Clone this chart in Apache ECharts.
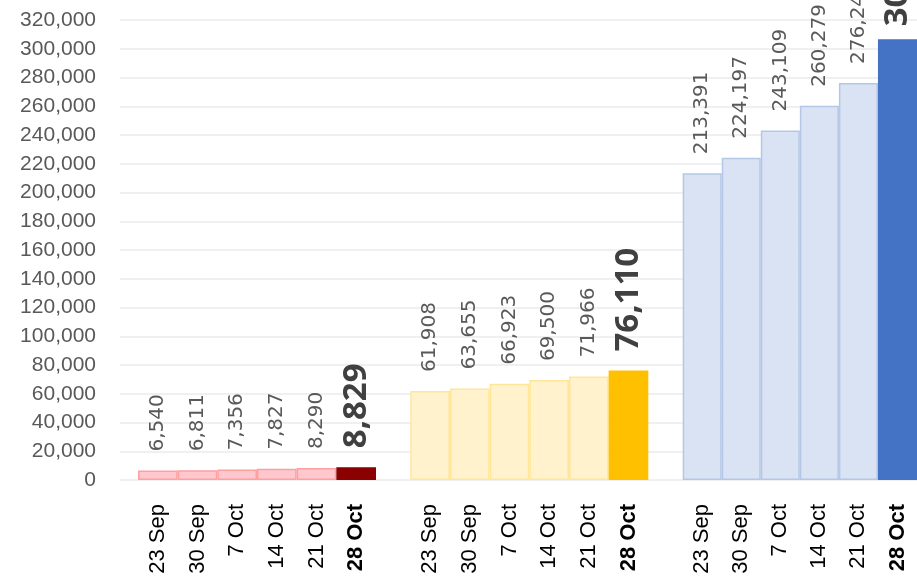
<!DOCTYPE html>
<html>
<head>
<meta charset="utf-8">
<script src="https://cdn.jsdelivr.net/npm/echarts@6/dist/echarts.min.js"></script>
<style>
  html, body { margin: 0; padding: 0; background: #fff; }
  #chart { width: 917px; height: 579px; }
</style>
</head>
<body>
<div id="chart"></div>
<script>
// weekly snapshots, shared by all three groups
const weeks = ['23 Sep', '30 Sep', '7 Oct', '14 Oct', '21 Oct', '28 Oct']
const redValues = [6540, 6811, 7356, 7827, 8290, 8829]
const amberValues = [61908, 63655, 66923, 69500, 71966, 76110]
const blueValues = [213391, 224197, 243109, 260279, 276245, 306550]

const yMin = 0
const yMax = 320000
const yStep = 20000

const groups = [
  { values: redValues, fill: '#FFC7CE', border: '#FF9F9F', last: '#8B0000', left: 138, lastDist: 19 },
  { values: amberValues, fill: '#FFF2CC', border: '#FFE699', last: '#FFC000', left: 410.3, lastDist: 19 },
  // top label gets pushed down a bit by the chart edge in the original
  { values: blueValues, fill: '#DAE3F3', border: '#B4C7E7', last: '#4472C4', left: 682.7, lastDist: 13 }
]

const fmt = v => v.toLocaleString('en-US')
const gridTop = 20
const gridBottom = 99

const grid = [{ left: 120, right: 0, top: gridTop, bottom: gridBottom }]
const xAxis = [{ gridIndex: 0, type: 'category', data: [''], show: false }]
const yAxis = [{
  gridIndex: 0,
  type: 'value',
  min: yMin,
  max: yMax,
  interval: yStep,
  axisLine: { show: false },
  axisTick: { show: false },
  axisLabel: {
    formatter: fmt,
    color: '#595959',
    fontFamily: 'Liberation Sans',
    fontSize: 21,
    margin: 24
  },
  splitLine: { lineStyle: { color: '#F0F0F0', width: 2 } }
}]
const series = []

groups.forEach((g, k) => {
  const idx = k + 1
  grid.push({ left: g.left, width: 238, top: gridTop, bottom: gridBottom })
  xAxis.push({
    gridIndex: idx,
    type: 'category',
    data: weeks.map((w, i) => i === weeks.length - 1
      ? { value: w, textStyle: { fontWeight: 'bold', color: '#000' } }
      : w),
    axisLine: { show: false },
    axisTick: { show: false },
    axisLabel: {
      rotate: 90,
      interval: 0,
      margin: 24,
      color: '#000',
      fontFamily: 'Liberation Sans',
      fontSize: 22
    }
  })
  yAxis.push({ gridIndex: idx, type: 'value', min: yMin, max: yMax, interval: yStep, show: false, splitLine: { show: false } })
  series.push({
    type: 'bar',
    xAxisIndex: idx,
    yAxisIndex: idx,
    barWidth: '100%',
    itemStyle: { color: g.fill, borderColor: g.border, borderWidth: 1.5 },
    label: {
      show: true,
      position: 'top',
      rotate: 90,
      align: 'left',
      verticalAlign: 'middle',
      distance: 19,
      formatter: p => fmt(p.value),
      color: '#595959',
      fontFamily: 'DejaVu Sans',
      fontSize: 20
    },
    data: g.values.map((v, i) => i === g.values.length - 1
      ? {
          value: v,
          itemStyle: { color: g.last, borderColor: g.last },
          label: { fontFamily: 'Open Sans', fontWeight: 'bold', fontSize: 33, color: '#404040', distance: g.lastDist }
        }
      : v)
  })
})

const chart = echarts.init(document.getElementById('chart'))
chart.setOption({
  animation: false,
  backgroundColor: '#ffffff',
  grid: grid,
  xAxis: xAxis,
  yAxis: yAxis,
  series: series
})
</script>
</body>
</html>
